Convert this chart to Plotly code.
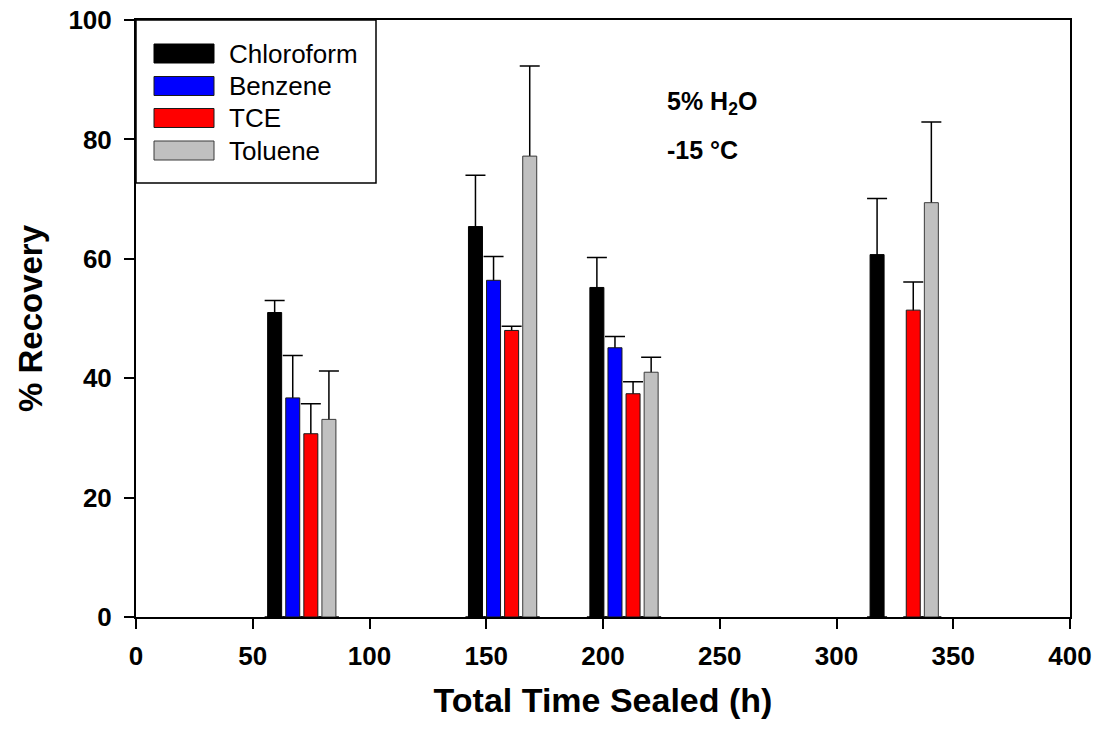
import plotly.graph_objects as go

# ---- data ----
times = [71, 157, 209, 329]  # total time sealed (h), group positions
series = ["Chloroform", "Benzene", "TCE", "Toluene"]
chloroform = [51.0, 65.4, 55.2, 60.7]
chloroform_err = [2.0, 8.6, 5.0, 9.4]
benzene = [36.7, 56.4, 45.1, None]
benzene_err = [7.1, 4.0, 1.9, None]
tce = [30.7, 48.0, 37.4, 51.4]
tce_err = [5.0, 0.7, 2.0, 4.7]
toluene = [33.1, 77.2, 41.0, 69.4]
toluene_err = [8.1, 15.1, 2.5, 13.5]
x_ticks = [0, 50, 100, 150, 200, 250, 300, 350, 400]
y_ticks = [0, 20, 40, 60, 80, 100]

values = [chloroform, benzene, tce, toluene]
errors = [chloroform_err, benzene_err, tce_err, toluene_err]

# ---- style ----
fills = ["#000000", "#0000ff", "#ff0000", "#c0c0c0"]
outlines = ["#000000", "#1a1a1a", "#1a1a1a", "#3a3a3a"]
FONT = "Liberation Sans, Arial, sans-serif"

W, H = 1099, 733
L, R, T, B = 136, 29, 20, 116
PW, PH = W - L - R, H - T - B


def px(x):
    return (x - L) / PW


def py(y):
    return (H - B - y) / PH


fig = go.Figure()

# error-bar carriers (drawn first, hidden stems covered by the real bars)
for name, v, e in zip(series, values, errors):
    fig.add_trace(go.Bar(
        x=times, y=v, offsetgroup=name, showlegend=False, hoverinfo="skip",
        marker=dict(color="rgba(0,0,0,0)", line=dict(width=0)),
        error_y=dict(type="data", symmetric=False, array=e, arrayminus=v,
                     color="#000000", thickness=1.5, width=10),
    ))

# real bars
for name, v, c, oc in zip(series, values, fills, outlines):
    fig.add_trace(go.Bar(
        x=times, y=v, name=name, offsetgroup=name, showlegend=False,
        marker=dict(color=c, line=dict(color=oc, width=1)),
    ))

# ---- manual legend (large swatches like the original) ----
shapes = [dict(type="rect", xref="paper", yref="paper",
               x0=0, x1=px(376), y0=py(183), y1=1,
               line=dict(color="#000000", width=1.5), fillcolor="white", layer="above")]
annotations = []
row_y = [53.5, 86, 118, 150.5]
for name, c, oc, ry in zip(series, fills, outlines, row_y):
    shapes.append(dict(type="rect", xref="paper", yref="paper",
                       x0=px(154), x1=px(214), y0=py(ry + 9.5), y1=py(ry - 9.5),
                       line=dict(color=oc, width=1), fillcolor=c, layer="above"))
    annotations.append(dict(xref="paper", yref="paper", x=px(227), y=py(ry),
                            text=name, showarrow=False, xanchor="left", yanchor="middle",
                            font=dict(family=FONT, size=26, color="#000000")))

annotations.append(dict(xref="paper", yref="paper", x=px(665), y=py(103),
                        text="<b>5% H<sub>2</sub>O</b>", showarrow=False,
                        xanchor="left", yanchor="middle",
                        font=dict(family=FONT, size=25, color="#000000")))
annotations.append(dict(xref="paper", yref="paper", x=px(665), y=py(150),
                        text="<b>-15 °C</b>", showarrow=False,
                        xanchor="left", yanchor="middle",
                        font=dict(family=FONT, size=25, color="#000000")))

axis_common = dict(
    showline=True, linecolor="#000000", linewidth=2, mirror=True,
    ticks="outside", ticklen=10, tickwidth=1.5, tickcolor="#000000",
    showgrid=False, zeroline=False, automargin=False,
    tickfont=dict(family=FONT, size=26, color="#000000", weight="bold"),
)

fig.update_layout(
    width=W, height=H,
    margin=dict(l=L, r=R, t=T, b=B, autoexpand=False),
    paper_bgcolor="white", plot_bgcolor="white",
    barmode="group", bargap=0.404, bargroupgap=0.226,
    shapes=shapes, annotations=annotations,
    xaxis=dict(range=[0, 400], tickvals=x_ticks, ticktext=[str(t) for t in x_ticks],
               ticklabelstandoff=5,
               title=dict(text="<b>Total Time Sealed (h)</b>", standoff=18,
                          font=dict(family=FONT, size=34, color="#000000")),
               **axis_common),
    yaxis=dict(range=[0, 100], tickvals=y_ticks, ticktext=[str(t) for t in y_ticks],
               ticklabelstandoff=7,
               title=dict(text="<b>% Recovery</b>", standoff=16,
                          font=dict(family=FONT, size=33, color="#000000")),
               **axis_common),
    showlegend=False,
)

fig.write_html("out.html")
